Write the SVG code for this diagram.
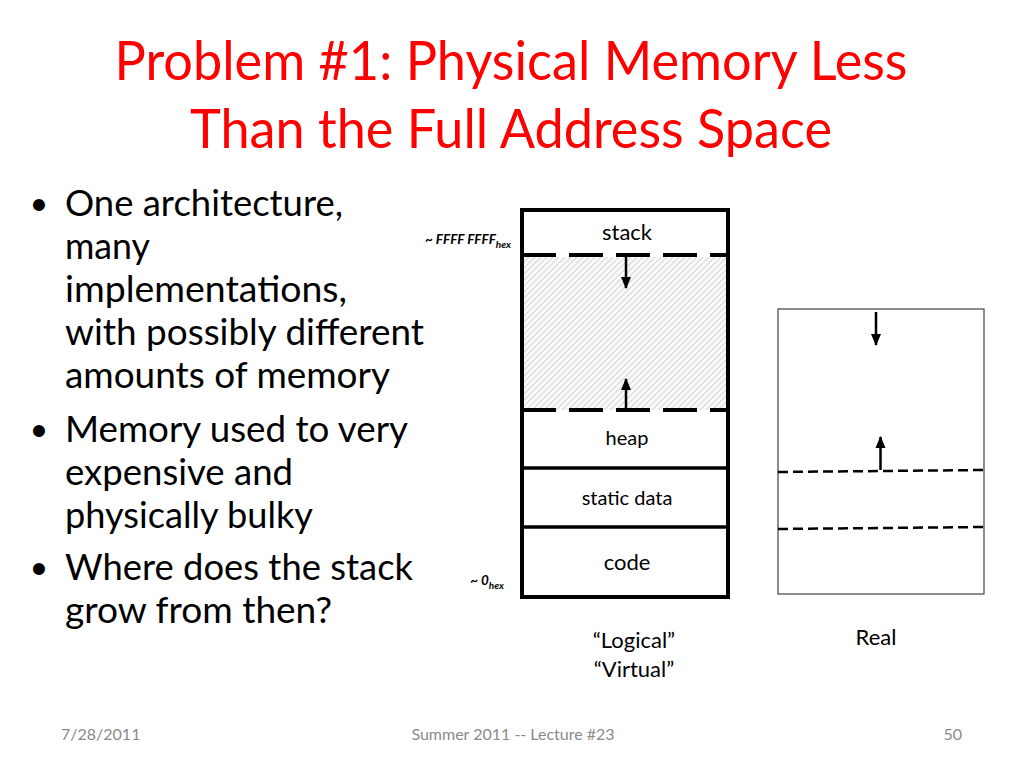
<svg xmlns="http://www.w3.org/2000/svg" width="1024" height="768" viewBox="0 0 1024 768">
<style>
.title{font-family:Lato,"Liberation Sans",sans-serif;font-size:54px;fill:#ff0000;text-anchor:middle}
.body{font-family:Lato,"Liberation Sans",sans-serif;font-size:36px;fill:#000}
.bul{font-family:"Liberation Sans",sans-serif;font-size:44px;fill:#000;text-anchor:middle}
.lbl{font-family:Lato,"Liberation Sans",sans-serif;font-size:20px;fill:#000;text-anchor:middle}
.big{font-size:22px}
.addr{font-family:Lato,"Liberation Sans",sans-serif;font-size:13.5px;font-weight:bold;font-style:italic;fill:#000}
.sub{font-size:10px}
.foot{font-family:Lato,"Liberation Sans",sans-serif;font-size:16px;fill:#8a8a8a}
.thick{stroke:#000;stroke-width:4;fill:none}
.solid{stroke:#000;stroke-width:3.5;fill:none}
.dash1{stroke:#000;stroke-width:4;stroke-dasharray:34 13;fill:none}
.dash2{stroke:#000;stroke-width:2.5;stroke-dasharray:10 5;fill:none}
.arr{stroke:#000;stroke-width:2.5;fill:none}
</style>
<defs>
<pattern id="hatch" patternUnits="userSpaceOnUse" width="6" height="6">
<rect width="6" height="6" fill="#fafafa"/>
<path d="M-1,1 L1,-1 M0,6 L6,0 M5,7 L7,5" stroke="#dcdcdc" stroke-width="1.3"/>
</pattern>
<marker id="ah" viewBox="0 0 12 12" refX="11" refY="6" markerWidth="12" markerHeight="12" orient="auto" markerUnits="userSpaceOnUse">
<path d="M0,1 L12,6 L0,11 Z" fill="#000"/>
</marker>
</defs>
<rect width="1024" height="768" fill="#fff"/>

<g id="title">
<text class="title" x="511" y="80" textLength="793" lengthAdjust="spacingAndGlyphs">Problem #1: Physical Memory Less</text>
<text class="title" x="511" y="148" textLength="642" lengthAdjust="spacingAndGlyphs">Than the Full Address Space</text>
</g>

<g id="bullets">
<text class="bul" x="39" y="220">•</text>
<text class="body" x="65" y="216" textLength="278" lengthAdjust="spacingAndGlyphs">One architecture,</text>
<text class="body" x="65" y="259" textLength="85" lengthAdjust="spacingAndGlyphs">many</text>
<text class="body" x="65" y="302" textLength="282" lengthAdjust="spacingAndGlyphs">implementations,</text>
<text class="body" x="65" y="345" textLength="359" lengthAdjust="spacingAndGlyphs">with possibly different</text>
<text class="body" x="65" y="388" textLength="325" lengthAdjust="spacingAndGlyphs">amounts of memory</text>
<text class="bul" x="39" y="446">•</text>
<text class="body" x="65" y="442" textLength="343" lengthAdjust="spacingAndGlyphs">Memory used to very</text>
<text class="body" x="65" y="485" textLength="228" lengthAdjust="spacingAndGlyphs">expensive and</text>
<text class="body" x="65" y="528" textLength="248" lengthAdjust="spacingAndGlyphs">physically bulky</text>
<text class="bul" x="39" y="584">•</text>
<text class="body" x="65" y="580" textLength="348" lengthAdjust="spacingAndGlyphs">Where does the stack</text>
<text class="body" x="65" y="623" textLength="267" lengthAdjust="spacingAndGlyphs">grow from then?</text>
</g>

<g id="logical-memory">
<rect x="524" y="257" width="202" height="153" fill="url(#hatch)"/>
<rect x="522" y="210" width="206" height="387" class="thick"/>
<line x1="522" y1="255" x2="728" y2="255" class="dash1"/>
<line x1="522" y1="410" x2="728" y2="410" class="dash1"/>
<line x1="522" y1="468" x2="728" y2="468" class="solid"/>
<line x1="522" y1="527" x2="728" y2="527" class="solid"/>
<text class="lbl big" x="627" y="240">stack</text>
<text class="lbl" x="627" y="445">heap</text>
<text class="lbl" x="627" y="505">static data</text>
<text class="lbl big" x="627" y="570">code</text>
<text class="addr" x="511" y="244" text-anchor="end">~ FFFF FFFF<tspan class="sub" dy="4">hex</tspan></text>
<text class="addr" x="504" y="585" text-anchor="end">~ 0<tspan class="sub" dy="4">hex</tspan></text>
<text class="lbl big" x="634" y="648">“Logical”</text>
<text class="lbl big" x="634" y="677">“Virtual”</text>
</g>

<g id="real-memory">
<rect x="778" y="309" width="206" height="285" fill="#fff" stroke="#404040" stroke-width="1.2"/>
<line x1="778" y1="472" x2="984" y2="470" class="dash2"/>
<line x1="778" y1="529" x2="984" y2="527" class="dash2"/>
<text class="lbl big" x="876" y="645">Real</text>
</g>

<g id="connectors">
<line x1="626" y1="257" x2="626" y2="288" class="arr" marker-end="url(#ah)"/>
<line x1="626" y1="408" x2="626" y2="379" class="arr" marker-end="url(#ah)"/>
<line x1="876" y1="312" x2="876" y2="345" class="arr" marker-end="url(#ah)"/>
<line x1="880.5" y1="470" x2="880.5" y2="437" class="arr" marker-end="url(#ah)"/>
</g>

<g id="footer">
<text class="foot" x="61" y="740">7/28/2011</text>
<text class="foot" x="513" y="740" text-anchor="middle">Summer 2011 -- Lecture #23</text>
<text class="foot" x="962" y="740" text-anchor="end">50</text>
</g>
</svg>
